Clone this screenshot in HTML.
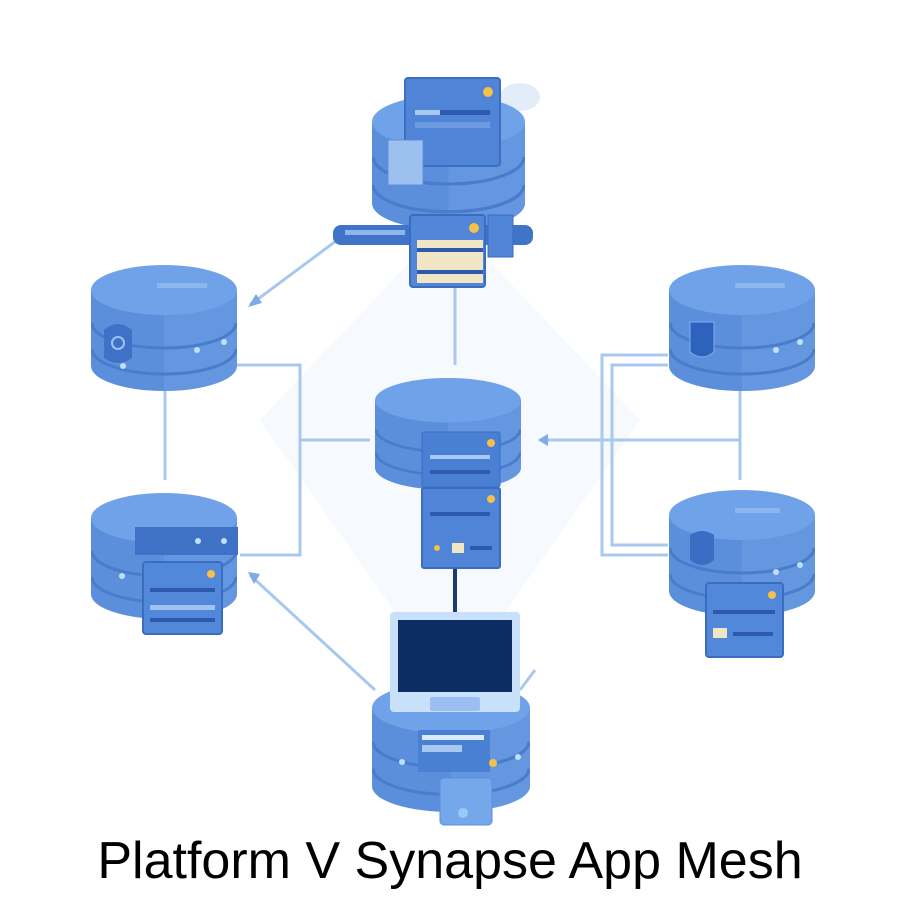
<!DOCTYPE html>
<html><head><meta charset="utf-8"><style>
body{margin:0;background:#fff;width:900px;height:900px;overflow:hidden}
</style></head><body>
<svg width="900" height="900" viewBox="0 0 900 900" xmlns="http://www.w3.org/2000/svg">
<defs>
<symbol id="cyl" viewBox="0 0 146 126" preserveAspectRatio="none">
<path d="M0 25 V101 A73 25 0 0 0 146 101 V25 Z" fill="#5b8fdc"/>
<path d="M73 25 V126 A73 25 0 0 0 146 101 V25 Z" fill="#6a9de2" opacity="0.6"/>
<path d="M1 58 A72 25 0 0 0 145 58" fill="none" stroke="#4a7ccc" stroke-width="3"/>
<path d="M1 84 A72 25 0 0 0 145 84" fill="none" stroke="#4a7ccc" stroke-width="3"/>
<ellipse cx="73" cy="25" rx="73" ry="25" fill="#6fa2e8"/>
</symbol>
</defs>
<polygon points="450,220 640,420 450,690 260,420" fill="#f2f6fc" opacity="0.7"/>
<ellipse cx="520" cy="97" rx="20" ry="14" fill="#e3edf9"/>
<g stroke="#a9c8ee" stroke-width="3" fill="none">
<line x1="340" y1="238" x2="250" y2="305"/>
<line x1="455" y1="280" x2="455" y2="365"/>
<line x1="165" y1="390" x2="165" y2="480"/>
<polyline points="237,365 300,365 300,555 240,555"/>
<line x1="300" y1="440" x2="370" y2="440"/>
<line x1="540" y1="440" x2="740" y2="440"/>
<polyline points="668,355 602,355 602,555 668,555"/>
<polyline points="668,365 612,365 612,545 668,545"/>
<line x1="740" y1="390" x2="740" y2="480"/>
<line x1="250" y1="575" x2="375" y2="690"/>
<line x1="520" y1="690" x2="535" y2="670"/>
</g>
<polygon points="248,307 262,303 256,294" fill="#7eaae6"/>
<polygon points="538,440 548,434 548,446" fill="#7eaae6"/>
<polygon points="248,572 260,574 254,584" fill="#7eaae6"/>
<line x1="455" y1="568" x2="455" y2="612" stroke="#1e3a70" stroke-width="4"/>
<use href="#cyl" x="372" y="95" width="153" height="135"/>
<rect x="405" y="78" width="95" height="88" rx="3" fill="#4f84d6" stroke="#3c6fc4" stroke-width="2"/>
<circle cx="488" cy="92" r="5" fill="#f6c04a"/>
<rect x="415" y="110" width="75" height="5" fill="#a8c8f2"/><rect x="440" y="110" width="50" height="5" fill="#2d5ab0"/>
<rect x="415" y="122" width="75" height="6" fill="#6d9ae0"/>
<rect x="388" y="140" width="35" height="45" fill="#9cc0ef" stroke="#5e90da"/>
<rect x="333" y="225" width="200" height="20" rx="8" fill="#3f74c8"/>
<rect x="345" y="230" width="60" height="5" fill="#8fb6ec"/>
<rect x="410" y="215" width="75" height="72" rx="3" fill="#5186d8" stroke="#3a6cc0" stroke-width="2"/>
<circle cx="474" cy="228" r="5" fill="#f6c04a"/>
<rect x="417" y="240" width="66" height="43" fill="#f1e6c4"/>
<rect x="417" y="248" width="66" height="4" fill="#2d5ab0"/><rect x="417" y="270" width="66" height="4" fill="#2d5ab0"/>
<rect x="488" y="215" width="25" height="42" fill="#4f84d6" stroke="#3a6cc0"/>
<use href="#cyl" x="91" y="265" width="146" height="126"/>
<rect x="157" y="283" width="50" height="5" fill="#8db5ee"/>
<path d="M104 330 q14 -12 28 0 v28 q-14 10 -28 0z" fill="#3f72c6"/>
<circle cx="118" cy="343" r="6" fill="none" stroke="#9cc3f2" stroke-width="2"/>
<circle cx="123" cy="366" r="3" fill="#bfe0ff"/><circle cx="197" cy="350" r="3" fill="#bfe0ff"/><circle cx="224" cy="342" r="3" fill="#bfe0ff"/>
<use href="#cyl" x="91" y="493" width="146" height="126"/>
<rect x="135" y="527" width="103" height="28" fill="#3f72c6"/>
<circle cx="198" cy="541" r="3" fill="#bfe0ff"/><circle cx="224" cy="541" r="3" fill="#bfe0ff"/>
<circle cx="122" cy="576" r="3" fill="#bfe0ff"/>
<rect x="143" y="562" width="79" height="72" rx="3" fill="#5288d9" stroke="#3a6cc0" stroke-width="2"/>
<circle cx="211" cy="574" r="4" fill="#f6c04a"/>
<rect x="150" y="588" width="65" height="4" fill="#2d5ab0"/><rect x="150" y="605" width="65" height="5" fill="#9fc2f0"/><rect x="150" y="618" width="65" height="4" fill="#2d5ab0"/>
<use href="#cyl" x="375" y="378" width="146" height="112"/>
<rect x="422" y="432" width="78" height="55" rx="2" fill="#4a80d4" stroke="#3a6cc0"/>
<circle cx="491" cy="443" r="4" fill="#f6c04a"/>
<rect x="430" y="455" width="60" height="4" fill="#a8c8f2"/><rect x="430" y="470" width="60" height="4" fill="#2d5ab0"/>
<rect x="422" y="488" width="78" height="80" rx="2" fill="#4f84d6" stroke="#3a6cc0" stroke-width="2"/>
<circle cx="491" cy="499" r="4" fill="#f6c04a"/>
<rect x="430" y="512" width="60" height="4" fill="#2d5ab0"/>
<circle cx="437" cy="548" r="3" fill="#f6c04a"/><rect x="452" y="543" width="12" height="10" fill="#f1e6c4"/><rect x="470" y="546" width="22" height="4" fill="#2d5ab0"/>
<use href="#cyl" x="669" y="265" width="146" height="126"/>
<rect x="735" y="283" width="50" height="5" fill="#8db5ee"/>
<path d="M690 322 h24 v30 q-12 10 -24 0z" fill="#2e63bd" stroke="#7fb0ee"/>
<circle cx="776" cy="350" r="3" fill="#bfe0ff"/><circle cx="800" cy="342" r="3" fill="#bfe0ff"/>
<use href="#cyl" x="669" y="490" width="146" height="126"/>
<rect x="735" y="508" width="45" height="5" fill="#8db5ee"/>
<path d="M690 535 q12 -8 24 0 v25 q-12 10 -24 0z" fill="#3a6ec5"/>
<circle cx="776" cy="572" r="3" fill="#bfe0ff"/><circle cx="800" cy="565" r="3" fill="#bfe0ff"/>
<rect x="706" y="583" width="77" height="74" rx="3" fill="#5288d9" stroke="#3a6cc0" stroke-width="2"/>
<circle cx="772" cy="595" r="4" fill="#f6c04a"/>
<rect x="713" y="610" width="62" height="4" fill="#2d5ab0"/><rect x="713" y="628" width="14" height="10" fill="#f1e6c4"/><rect x="733" y="632" width="40" height="4" fill="#2d5ab0"/>
<use href="#cyl" x="372" y="682" width="158" height="130"/>
<rect x="390" y="612" width="130" height="100" rx="4" fill="#c9e0fa"/>
<rect x="398" y="620" width="114" height="72" fill="#0c2d62"/>
<rect x="430" y="697" width="50" height="14" rx="2" fill="#9cbef0"/>
<rect x="418" y="730" width="72" height="42" fill="#4a80d4"/>
<rect x="422" y="735" width="62" height="5" fill="#dcebfb"/><rect x="422" y="745" width="40" height="7" fill="#a8c8f2"/>
<circle cx="493" cy="763" r="4" fill="#f6c04a"/><circle cx="402" cy="762" r="3" fill="#bfe0ff"/><circle cx="518" cy="757" r="3" fill="#bfe0ff"/>
<rect x="440" y="778" width="52" height="47" rx="4" fill="#74a8ea" stroke="#5a8fdc"/>
<circle cx="463" cy="813" r="5" fill="#9cc8f5"/>
<text x="450" y="878" text-anchor="middle" font-family="Liberation Sans, sans-serif" font-size="52" fill="#000">Platform V Synapse App Mesh</text>
</svg>
</body></html>
